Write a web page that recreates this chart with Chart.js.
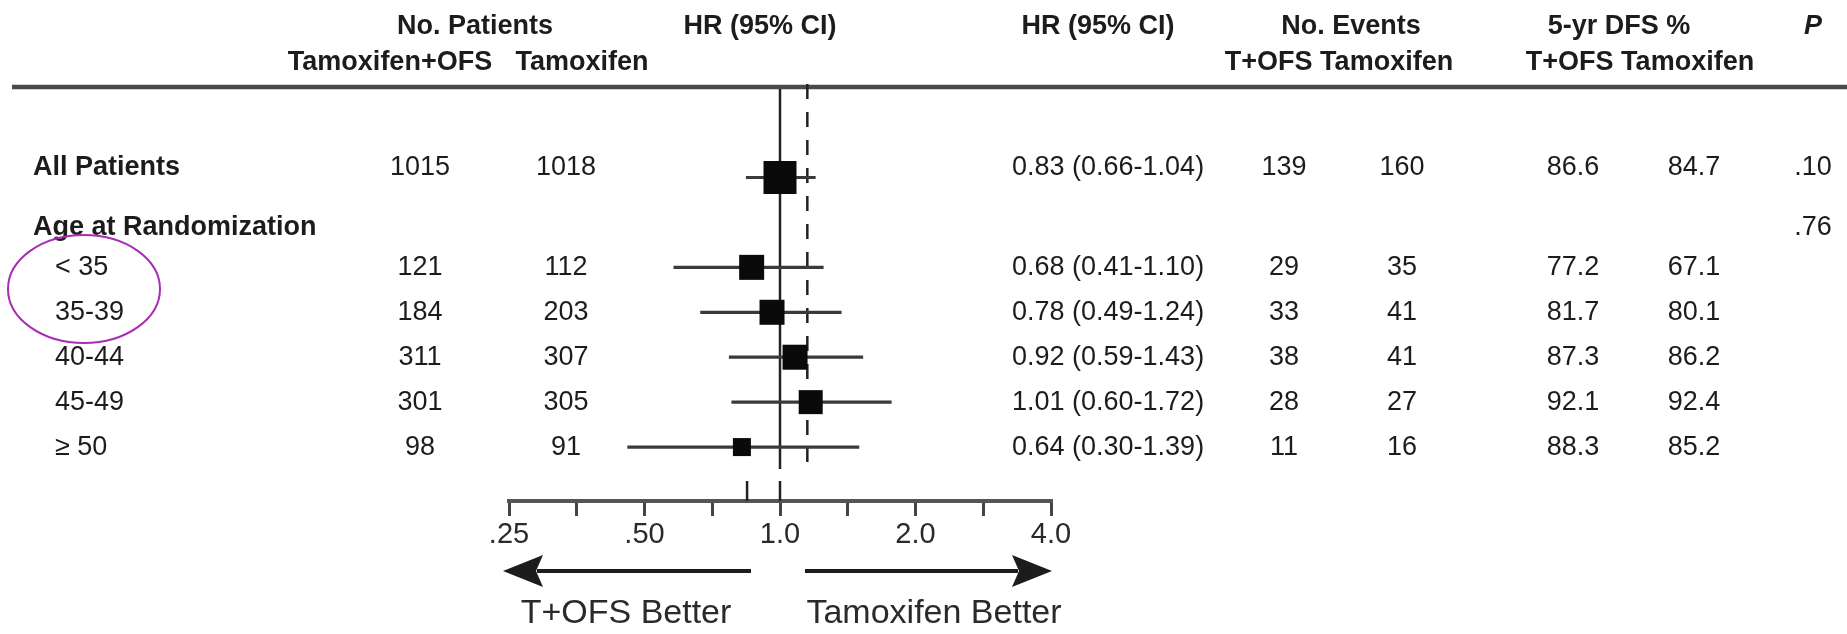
<!DOCTYPE html>
<html>
<head>
<meta charset="utf-8">
<script src="https://cdn.jsdelivr.net/npm/chart.js@4.4.1/dist/chart.umd.min.js"></script>
<style>
  html, body { margin: 0; padding: 0; background: #fff; }
  canvas { display: block; }
</style>
</head>
<body>
<canvas id="forestChart" width="1847" height="634"></canvas>
<script>
// Table rows
var groups = ["All Patients", "< 35", "35-39", "40-44", "45-49", "\u2265 50"];
var rowPos = [1, 3, 4, 5, 6, 7];
var nTOFS = [1015, 121, 184, 311, 301, 98];
var nTam = [1018, 112, 203, 307, 305, 91];
var hrText = ["0.83 (0.66-1.04)", "0.68 (0.41-1.10)", "0.78 (0.49-1.24)",
              "0.92 (0.59-1.43)", "1.01 (0.60-1.72)", "0.64 (0.30-1.39)"];
var eventsTOFS = [139, 29, 33, 38, 28, 11];
var eventsTam = [160, 35, 41, 41, 27, 16];
var dfsTOFS = ["86.6", "77.2", "81.7", "87.3", "92.1", "88.3"];
var dfsTam = ["84.7", "67.1", "80.1", "86.2", "92.4", "85.2"];
var pAll = ".10";
var pAge = ".76";

// Marks as they are drawn against the HR axis
var markHR = [1.00, 0.865, 0.96, 1.08, 1.17, 0.823];
var markLo = [0.84, 0.58, 0.665, 0.77, 0.78, 0.458];
var markHi = [1.20, 1.25, 1.37, 1.53, 1.77, 1.50];
var markSide = [33, 25, 25, 25, 24, 18];
var overallMark = 0.845;
var dashedRef = 1.15;

// x axis ticks
var tickVals = [0.25, 0.3536, 0.5, 0.7071, 1, 1.414, 2, 2.828, 4];
var tickLabels = [".25", "", ".50", "", "1.0", "", "2.0", "", "4.0"];

var FONT = '"Liberation Sans", Arial, Helvetica, sans-serif';

function seg(ctx, x0, y0, x1, y1) {
  ctx.beginPath();
  ctx.moveTo(x0, y0);
  ctx.lineTo(x1, y1);
  ctx.stroke();
}

function txt(ctx, s, x, y, align, font) {
  ctx.font = font;
  ctx.textAlign = align;
  ctx.textBaseline = "middle";
  ctx.fillText(s, x, y);
}

function arrowHead(ctx, tip, y, dir) {
  ctx.beginPath();
  ctx.moveTo(tip, y);
  ctx.lineTo(tip + dir * 40, y - 16);
  ctx.lineTo(tip + dir * 33, y);
  ctx.lineTo(tip + dir * 40, y + 16);
  ctx.closePath();
  ctx.fill();
}

var forestPlugin = {
  id: "forestTable",
  beforeDatasetsDraw: function (chart) {
    var ctx = chart.ctx;
    var xs = chart.scales.x;
    var ys = chart.scales.y;
    var bottom = chart.chartArea.bottom;
    ctx.save();
    ctx.lineCap = "butt";

    // header rule
    ctx.strokeStyle = "#4a4a4a";
    ctx.lineWidth = 4.5;
    seg(ctx, 12, 87, 1847, 87);

    // line of no effect
    var x1 = xs.getPixelForValue(1);
    ctx.strokeStyle = "#222";
    ctx.lineWidth = 2.5;
    seg(ctx, x1, 89, x1, 469);

    // dashed reference
    var xd = xs.getPixelForValue(dashedRef);
    ctx.setLineDash([15, 13]);
    seg(ctx, xd, 84, xd, 462);
    ctx.setLineDash([]);

    // taller ticks above the axis
    [1, overallMark].forEach(function (v) {
      var px = xs.getPixelForValue(v);
      seg(ctx, px, bottom - 20, px, bottom);
    });

    // confidence intervals
    ctx.strokeStyle = "#3a3a3a";
    ctx.lineWidth = 3.2;
    for (var i = 0; i < groups.length; i++) {
      var y = ys.getPixelForValue(rowPos[i]);
      seg(ctx, xs.getPixelForValue(markLo[i]), y, xs.getPixelForValue(markHi[i]), y);
    }
    ctx.restore();
  },
  afterDraw: function (chart) {
    var ctx = chart.ctx;
    var xs = chart.scales.x;
    var ys = chart.scales.y;
    var area = chart.chartArea;
    var bold = "bold 27px " + FONT;
    var reg = "27px " + FONT;
    ctx.save();
    ctx.fillStyle = "#1c1c1c";

    // headers
    txt(ctx, "No. Patients", 475, 27, "center", bold);
    txt(ctx, "Tamoxifen+OFS", 390, 63, "center", bold);
    txt(ctx, "Tamoxifen", 582, 63, "center", bold);
    txt(ctx, "HR (95% CI)", 760, 27, "center", bold);
    txt(ctx, "HR (95% CI)", 1098, 27, "center", bold);
    txt(ctx, "No. Events", 1351, 27, "center", bold);
    txt(ctx, "T+OFS Tamoxifen", 1339, 63, "center", bold);
    txt(ctx, "5-yr DFS %", 1619, 27, "center", bold);
    txt(ctx, "T+OFS Tamoxifen", 1640, 63, "center", bold);
    txt(ctx, "P", 1813, 27, "center", "italic bold 27px " + FONT);

    // rows
    for (var i = 0; i < groups.length; i++) {
      var y = ys.getPixelForValue(rowPos[i]);
      if (i === 0) y -= 10;
      if (i === 0) txt(ctx, groups[i], 33, y, "left", bold);
      else txt(ctx, groups[i], 55, y, "left", reg);
      txt(ctx, String(nTOFS[i]), 420, y, "center", reg);
      txt(ctx, String(nTam[i]), 566, y, "center", reg);
      txt(ctx, hrText[i], 1012, y, "left", reg);
      txt(ctx, String(eventsTOFS[i]), 1284, y, "center", reg);
      txt(ctx, String(eventsTam[i]), 1402, y, "center", reg);
      txt(ctx, dfsTOFS[i], 1573, y, "center", reg);
      txt(ctx, dfsTam[i], 1694, y, "center", reg);
    }
    txt(ctx, pAll, 1813, ys.getPixelForValue(rowPos[0]) - 10, "center", reg);
    var yAge = ys.getPixelForValue(2.11);
    txt(ctx, "Age at Randomization", 33, yAge, "left", bold);
    txt(ctx, pAge, 1813, yAge, "center", reg);

    // direction arrows
    var x1 = xs.getPixelForValue(1);
    var ya = 571;
    ctx.strokeStyle = "#1c1c1c";
    ctx.lineWidth = 4;
    var lTip = area.left - 6, rTip = area.right + 1;
    seg(ctx, x1 - 29, ya, lTip + 34, ya);
    seg(ctx, x1 + 25, ya, rTip - 34, ya);
    arrowHead(ctx, lTip, ya, 1);
    arrowHead(ctx, rTip, ya, -1);
    ctx.fillStyle = "#2a2a2a";
    txt(ctx, "T+OFS Better", x1 - 154, 614, "center", "34px " + FONT);
    txt(ctx, "Tamoxifen Better", x1 + 154, 614, "center", "34px " + FONT);

    // annotation ring
    ctx.strokeStyle = "#a82cb4";
    ctx.lineWidth = 2;
    ctx.beginPath();
    ctx.ellipse(84, 289, 76, 54, 0, 0, Math.PI * 2);
    ctx.stroke();
    ctx.restore();
  }
};

var points = groups.map(function (g, i) {
  return { x: markHR[i], y: rowPos[i] };
});

var forestCtx = document.getElementById("forestChart").getContext("2d");
var forestChart = new Chart(forestCtx, {
  type: "scatter",
  data: {
    datasets: [
      {
        label: "HR",
        data: points,
        pointStyle: "rect",
        pointRadius: markSide.map(function (s) { return s / Math.SQRT2; }),
        backgroundColor: "#0a0a0a",
        borderWidth: 0,
      },
    ],
  },
  options: {
    responsive: false,
    animation: false,
    devicePixelRatio: 1,
    layout: {
      autoPadding: false,
      padding: { left: 509, right: 796, top: 0, bottom: 0 },
    },
    plugins: { legend: { display: false }, tooltip: { enabled: false } },
    scales: {
      x: {
        type: "logarithmic",
        min: 0.25,
        max: 4,
        afterBuildTicks: function (scale) {
          scale.ticks = tickVals.map(function (v) { return { value: v }; });
        },
        afterFit: function (scale) {
          scale.height = 133;
        },
        ticks: {
          autoSkip: false,
          maxRotation: 0,
          padding: 2,
          color: "#2a2a2a",
          font: { family: FONT, size: 29 },
          callback: function (v, i) { return tickLabels[i]; },
        },
        grid: {
          drawOnChartArea: false,
          drawTicks: true,
          tickLength: 15,
          color: "#444",
          lineWidth: 3,
        },
        border: { display: true, color: "#555", width: 4 },
      },
      y: {
        type: "linear",
        display: false,
        reverse: true,
        min: -2.95,
        max: 8.2,
      },
    },
  },
  plugins: [forestPlugin],
});
</script>
</body>
</html>
